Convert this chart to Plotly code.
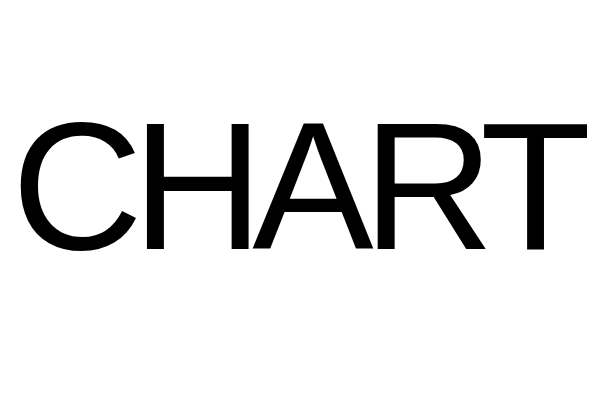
import plotly.graph_objects as go

# The picture is only one word, set large in black on white
label = "CHART"
font_family = "Liberation Sans, Arial, Helvetica, sans-serif"
font_size = 182

fig = go.Figure()

fig.add_annotation(
    text=label,
    x=0.48, y=0.562,
    xref="paper", yref="paper",
    xanchor="center", yanchor="middle",
    showarrow=False,
    font=dict(family=font_family, size=font_size, color="black"),
)

fig.update_layout(
    width=600, height=407,
    margin=dict(l=0, r=0, t=0, b=0),
    paper_bgcolor="white",
    plot_bgcolor="white",
    xaxis=dict(visible=False),
    yaxis=dict(visible=False),
    showlegend=False,
)

# tighten the letters a bit, the word in the reference is set close
tighten = """
document.querySelectorAll('.annotation-text').forEach(function (t) {
    t.style.letterSpacing = '-11px';
});
"""

fig.write_html("out.html", config={"displayModeBar": False}, post_script=tighten)
